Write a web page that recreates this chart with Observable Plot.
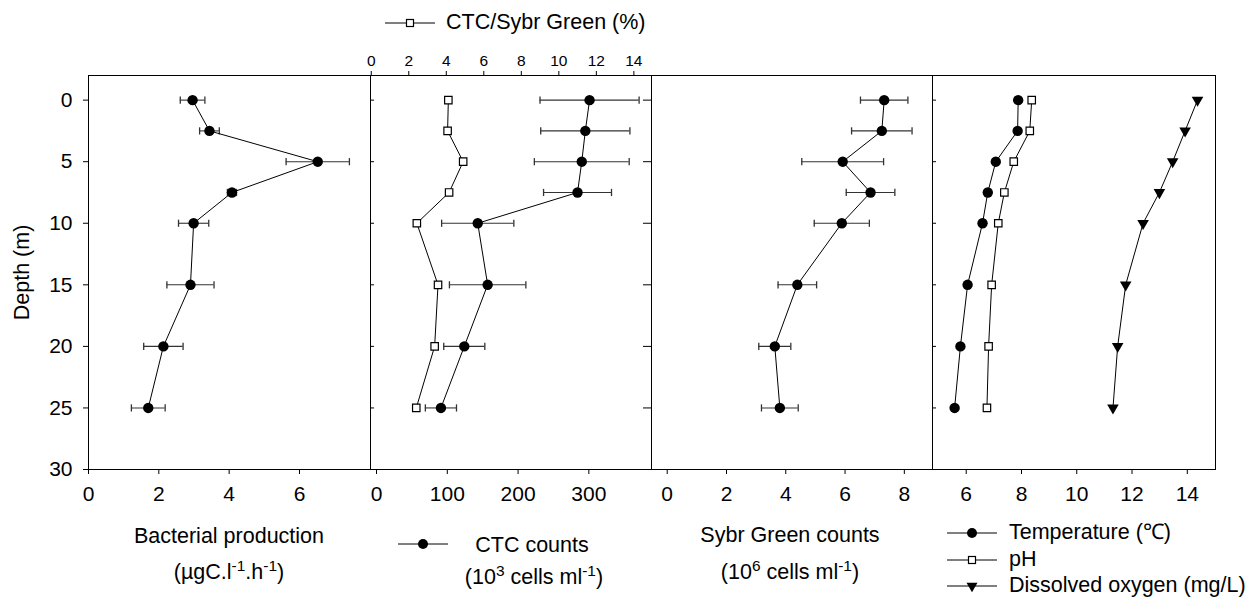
<!DOCTYPE html>
<html><head><meta charset="utf-8">
<script src="https://cdn.jsdelivr.net/npm/d3@7"></script>
<script src="https://cdn.jsdelivr.net/npm/@observablehq/plot@0.6"></script>
<style>
body{margin:0;background:#fff;}
#chart{position:relative;width:1250px;height:599px;overflow:hidden;font-family:"Liberation Sans",Arial,Helvetica,sans-serif;color:#000;background:#fff;}
#chart svg.layer{position:absolute;left:0;top:0;}
.lab{position:absolute;font-size:21.5px;line-height:1;white-space:nowrap;}
.c{transform:translate(-50%,-50%);text-align:center;}
.l{transform:translateY(-50%);}
.lab sup{font-size:0.72em;vertical-align:0.55em;line-height:0;}
.sym{position:absolute;}
</style></head>
<body>
<div id="chart"></div>
<script>
// ---- data ----
const depth   = [0, 2.5, 5, 7.5, 10, 15, 20, 25];
const bp      = [2.96, 3.44, 6.52, 4.08, 2.99, 2.90, 2.13, 1.70];
const bpErr   = [0.35, 0.28, 0.90, 0.13, 0.43, 0.67, 0.56, 0.48];
const ctc     = [301, 295, 290, 284, 143, 157, 124, 91];
const ctcErr  = [70, 63, 67, 48, 51, 54, 29, 22];
const ctcPct  = [4.11, 4.07, 4.90, 4.15, 2.43, 3.56, 3.38, 2.40];
const sg      = [7.32, 7.24, 5.92, 6.86, 5.89, 4.39, 3.63, 3.80];
const sgErr   = [0.80, 1.02, 1.38, 0.82, 0.93, 0.65, 0.54, 0.62];
const temp    = [7.88, 7.86, 7.07, 6.78, 6.59, 6.05, 5.79, 5.58];
const ph      = [8.37, 8.30, 7.72, 7.38, 7.16, 6.92, 6.81, 6.75];
const dox     = [14.37, 13.92, 13.47, 12.99, 12.40, 11.77, 11.48, 11.31];

const yTicks    = [0, 5, 10, 15, 20, 25, 30];
const bpTicks   = [0, 2, 4, 6];
const ctcTicks  = [0, 100, 200, 300];
const pctTicks  = [0, 2, 4, 6, 8, 10, 12, 14];
const sgTicks   = [0, 2, 4, 6, 8];
const envTicks  = [6, 8, 10, 12, 14];

const rows = depth.map((d, i) => ({
  depth: d, bp: bp[i], bpErr: bpErr[i], ctc: ctc[i], ctcErr: ctcErr[i], pct: ctcPct[i],
  sg: sg[i], sgErr: sgErr[i], temp: temp[i], ph: ph[i], dox: dox[i]
}));

// ---- layout ----
const W = 1250, H = 599, TOP = 75, BOTTOM = 469;
const FONT = '"Liberation Sans", Arial, Helvetica, sans-serif';
const ERR = "#333";

const cap = {draw(ctx, size) { const h = Math.sqrt(size / Math.PI); ctx.moveTo(0, -h); ctx.lineTo(0, h); }};
const triDown = {draw(ctx, size) {
  const s = Math.sqrt(size * 4 / Math.sqrt(3)), h = s * Math.sqrt(3) / 2;
  ctx.moveTo(-s / 2, -h / 3); ctx.lineTo(s / 2, -h / 3); ctx.lineTo(0, 2 * h / 3); ctx.closePath();
}};

function errMarks(v, e) {
  return [
    Plot.ruleY(rows, {y: "depth", x1: d => d[v] - d[e], x2: d => d[v] + d[e], stroke: ERR, strokeWidth: 1.1}),
    Plot.dot(rows, {x: d => d[v] - d[e], y: "depth", symbol: cap, r: 3.6, stroke: ERR, fill: "none", strokeWidth: 1.3}),
    Plot.dot(rows, {x: d => d[v] + d[e], y: "depth", symbol: cap, r: 3.6, stroke: ERR, fill: "none", strokeWidth: 1.3})
  ];
}
function circles(v) {
  return [
    Plot.line(rows, {x: v, y: "depth", stroke: "black", strokeWidth: 1}),
    Plot.dot(rows, {x: v, y: "depth", r: 5.2, fill: "black", stroke: "none"})
  ];
}
function bottomAxis(ticks) {
  return Plot.axisX({anchor: "bottom", ticks, tickSize: 5, tickPadding: 12, fontSize: 21, label: null, stroke: "black"});
}
function panel(x0, x1, xDomain, marks) {
  const svg = Plot.plot({
    width: W, height: H,
    marginLeft: x0, marginRight: W - x1, marginTop: TOP, marginBottom: H - BOTTOM,
    x: {domain: xDomain, axis: null},
    y: {domain: [-2, 30], reverse: true, axis: null},
    style: {background: "transparent", fontFamily: FONT, fontSize: "20px", color: "black", overflow: "visible"},
    marks
  });
  svg.classList.add("layer");
  document.getElementById("chart").append(svg);
  return svg;
}

// Panel 1: bacterial production
panel(88, 370, [0, 8.02], [
  ...errMarks("bp", "bpErr"),
  ...circles("bp"),
  Plot.frame({stroke: "black"}),
  bottomAxis(bpTicks),
  Plot.axisY({anchor: "left", ticks: yTicks, tickSize: 5, tickPadding: 11, fontSize: 21, label: null}),
  Plot.text(["Depth (m)"], {frameAnchor: "left", rotate: -90, dx: -66, textAnchor: "middle", fontSize: 21.5})
]);

// Panel 2: CTC counts
panel(370, 651, [-8.5, 388.5], [
  ...errMarks("ctc", "ctcErr"),
  ...circles("ctc"),
  Plot.tickY(yTicks, {y: d => d, insetRight: 277, stroke: "black"}),
  Plot.frame({stroke: "black"}),
  bottomAxis(ctcTicks)
]);

// Panel 2 overlay: CTC / Sybr Green (%) on the top axis
panel(370, 651, [-0.04, 14.94], [
  Plot.line(rows, {x: "pct", y: "depth", stroke: "black", strokeWidth: 1}),
  Plot.dot(rows, {x: "pct", y: "depth", symbol: "square", r: 4.2, fill: "white", stroke: "black", strokeWidth: 1.2}),
  Plot.axisX({anchor: "top", ticks: pctTicks, tickSize: 5, tickPadding: 5, fontSize: 15.5, label: null})
]);

// Panel 3: Sybr Green counts
panel(651, 932, [-0.53, 8.95], [
  ...errMarks("sg", "sgErr"),
  ...circles("sg"),
  Plot.tickY(yTicks, {y: d => d, insetLeft: -8, insetRight: 281, stroke: "black"}),
  Plot.frame({stroke: "black"}),
  bottomAxis(sgTicks)
]);

// Panel 4: temperature, pH, dissolved oxygen
panel(932, 1215, [4.78, 15.02], [
  Plot.line(rows, {x: "temp", y: "depth", stroke: "black", strokeWidth: 1}),
  Plot.dot(rows, {x: "temp", y: "depth", r: 5.2, fill: "black", stroke: "none"}),
  Plot.line(rows, {x: "ph", y: "depth", stroke: "black", strokeWidth: 1}),
  Plot.dot(rows, {x: "ph", y: "depth", symbol: "square", r: 4.2, fill: "white", stroke: "black", strokeWidth: 1.2}),
  Plot.line(rows, {x: "dox", y: "depth", stroke: "black", strokeWidth: 1}),
  Plot.dot(rows, {x: "dox", y: "depth", symbol: triDown, r: 4.3, fill: "black", stroke: "none"}),
  Plot.tickY(yTicks, {y: d => d, insetRight: 279, stroke: "black"}),
  Plot.frame({stroke: "black"}),
  bottomAxis(envTicks)
]);

// ---- labels & legends (HTML) ----
const chart = document.getElementById("chart");
function label(html, x, y, cls) {
  const d = document.createElement("div");
  d.className = "lab " + cls;
  d.style.left = x + "px"; d.style.top = y + "px";
  d.innerHTML = html;
  chart.append(d);
}
function symbol(kind, x, y) {
  const ns = "http://www.w3.org/2000/svg";
  const s = document.createElementNS(ns, "svg");
  s.setAttribute("width", 52); s.setAttribute("height", 16);
  s.setAttribute("class", "sym");
  s.style.left = x + "px"; s.style.top = (y - 8) + "px";
  let inner = '<line x1="0" y1="8" x2="50" y2="8" stroke="black" stroke-width="1"/>';
  if (kind === "circle") inner += '<circle cx="25" cy="8" r="5" fill="black"/>';
  if (kind === "square") inner += '<rect x="21.5" y="4.5" width="7" height="7" fill="white" stroke="black" stroke-width="1.2"/>';
  if (kind === "tri") inner += '<path d="M19.5,4.8L30.5,4.8L25,14.3Z" fill="black"/>';
  s.innerHTML = inner;
  chart.append(s);
}

symbol("square", 385, 23);
label("CTC/Sybr Green (%)", 446, 23, "l");

label("Bacterial production", 229, 537, "c");
label("(µgC.l<sup>-1</sup>.h<sup>-1</sup>)", 229, 573, "c");

symbol("circle", 398, 544);
label("CTC counts", 532, 546, "c");
label("(10<sup>3</sup> cells ml<sup>-1</sup>)", 534, 578, "c");

label("Sybr Green counts", 790, 536, "c");
label("(10<sup>6</sup> cells ml<sup>-1</sup>)", 790, 573, "c");

symbol("circle", 947, 533);
label("Temperature (℃)", 1009, 533, "l");
symbol("square", 947, 560);
label("pH", 1009, 560, "l");
symbol("tri", 947, 586);
label("Dissolved oxygen (mg/L)", 1009, 586, "l");
</script>
</body></html>
